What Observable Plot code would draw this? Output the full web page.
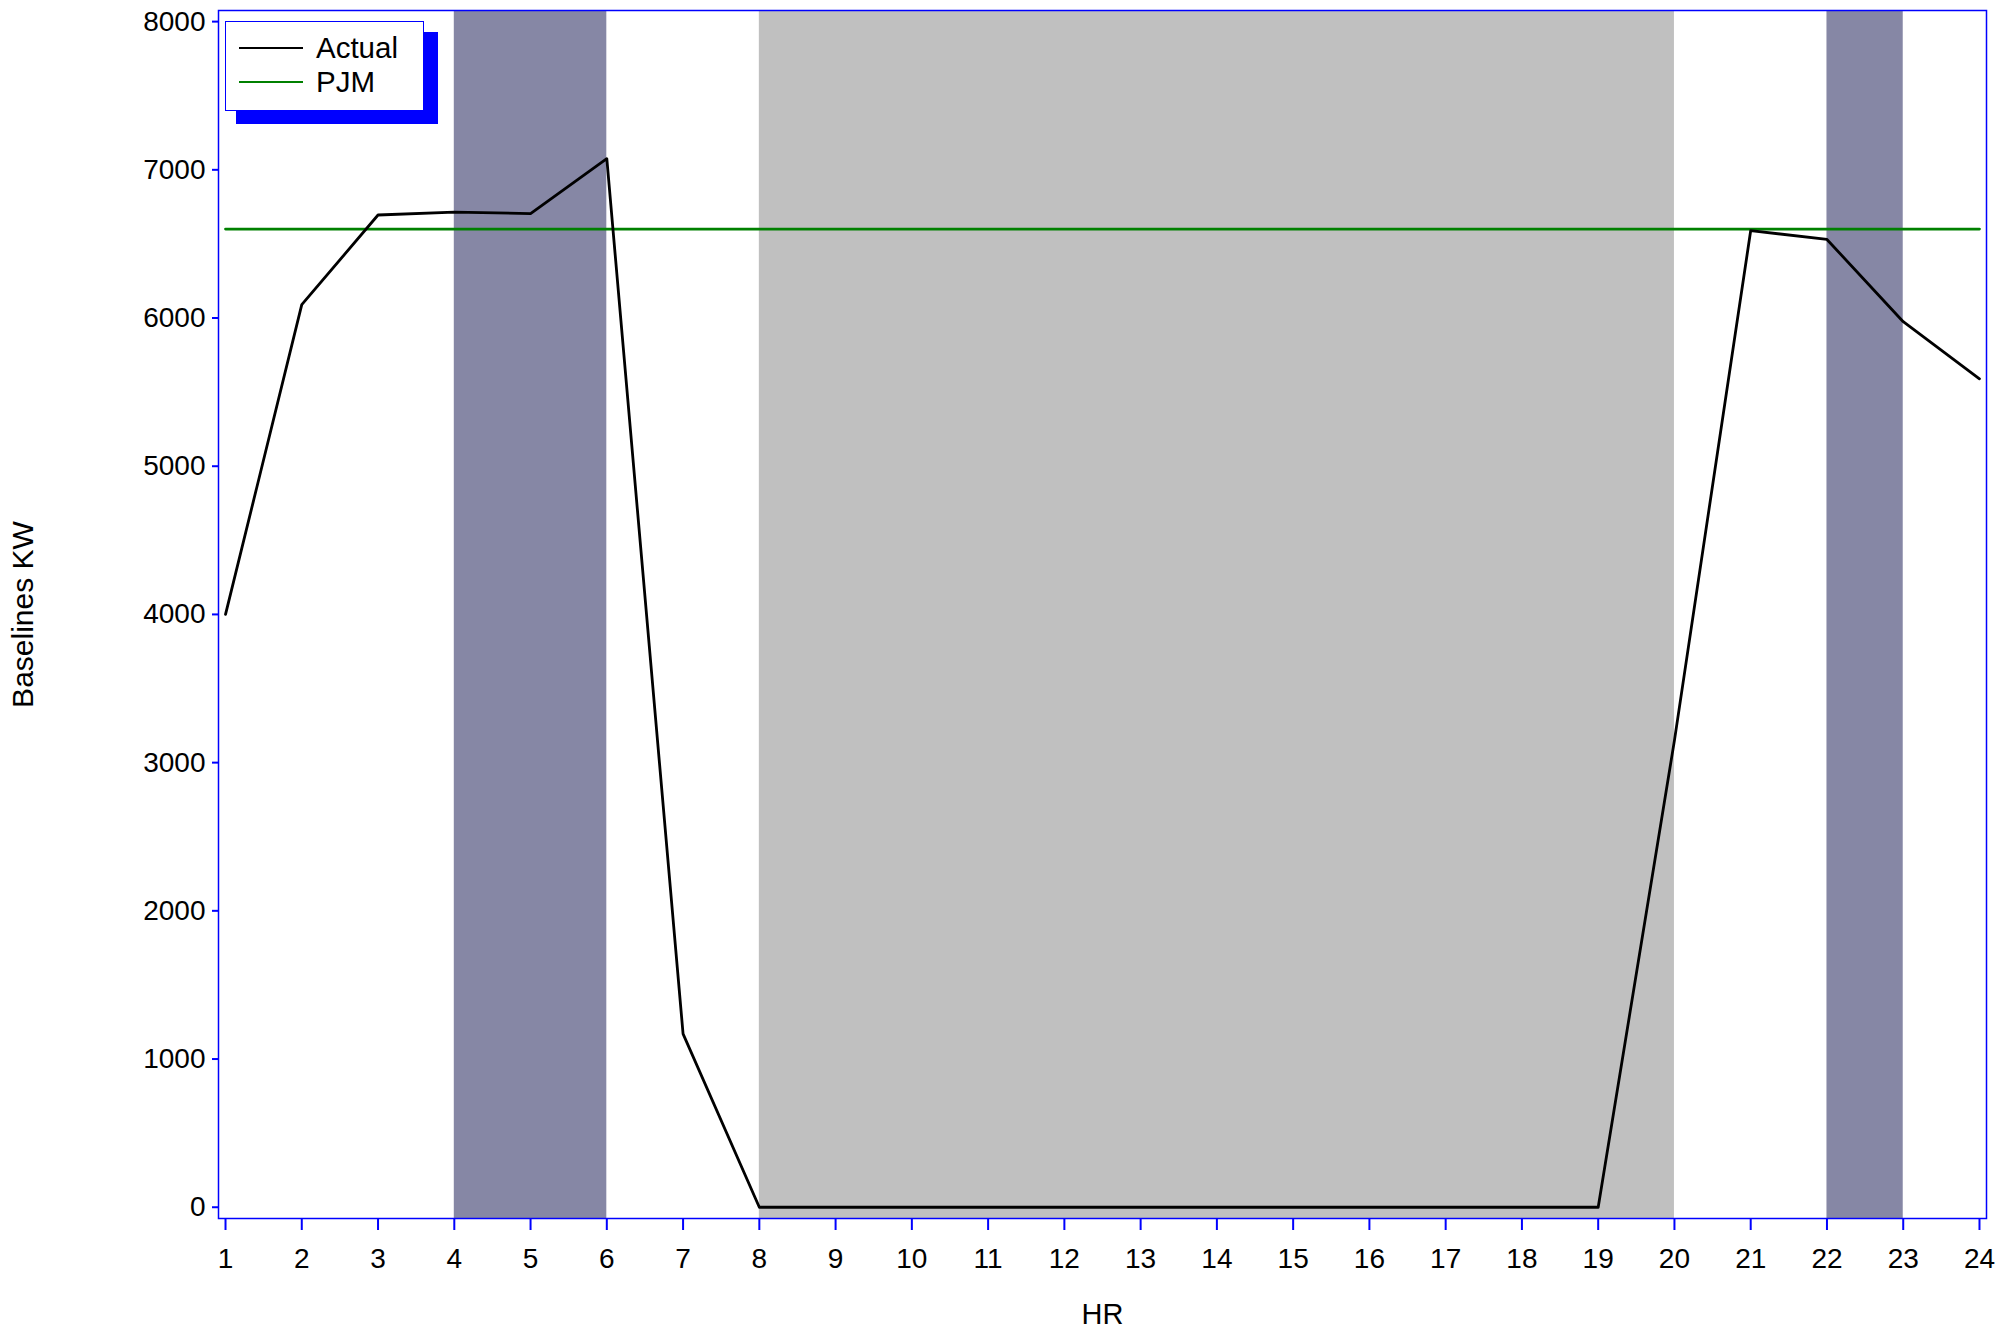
<!DOCTYPE html>
<html>
<head>
<meta charset="utf-8">
<script src="https://cdn.jsdelivr.net/npm/d3@7"></script>
<script src="https://cdn.jsdelivr.net/npm/@observablehq/plot@0.6"></script>
<style>
  html, body { margin: 0; padding: 0; background: #fff; }
  #wrap { position: relative; width: 2016px; height: 1329px; font-family: "Liberation Sans", Arial, sans-serif; }
  #legend-shadow { position: absolute; left: 236px; top: 32px; width: 202px; height: 92px; background: #0000ff; }
  #legend { position: absolute; left: 225px; top: 21px; width: 197px; height: 88px; background: #fff; border: 1px solid #0000ff; box-sizing: content-box; }
  .item { position: absolute; left: 13px; height: 30px; display: flex; align-items: center; font-size: 29.5px; color: #000; }
  .swatch { width: 64px; height: 0; border-top: 2.5px solid; margin-right: 13px; }
</style>
</head>
<body>
<div id="wrap"></div>
<script>
const hours = [1, 2, 3, 4, 5, 6, 7, 8, 9, 10, 11, 12, 13, 14, 15, 16, 17, 18, 19, 20, 21, 22, 23, 24];
const actualKW = [4000, 6090, 6695, 6715, 6705, 7075, 1170, 0, 0, 0, 0, 0, 0, 0, 0, 0, 0, 0, 0, 3150, 6590, 6530, 5975, 5590];
const pjmKW = [6600, 6600, 6600, 6600, 6600, 6600, 6600, 6600, 6600, 6600, 6600, 6600, 6600, 6600, 6600, 6600, 6600, 6600, 6600, 6600, 6600, 6600, 6600, 6600];
const seriesNames = ["Actual", "PJM"];
const seriesColors = ["#000000", "#008000"];
const shadeStart = [4, 8, 22];
const shadeEnd = [6, 20, 23];
const shadeColors = ["#8687a5", "#c0c0c0", "#8687a5"];
const yTicks = [0, 1000, 2000, 3000, 4000, 5000, 6000, 7000, 8000];

const actualData = hours.map((h, i) => ({hour: h, kw: actualKW[i]}));
const pjmData = hours.map((h, i) => ({hour: h, kw: pjmKW[i]}));
const shades = shadeStart.map((s, i) => ({x1: s, x2: shadeEnd[i], fill: shadeColors[i]}));

const chart = Plot.plot({
  width: 2016,
  height: 1329,
  marginLeft: 218,
  marginRight: 30,
  marginTop: 10,
  marginBottom: 111,
  style: {fontFamily: "'Liberation Sans', Arial, sans-serif", fontSize: "28px", background: "#fff", color: "#000"},
  x: {type: "linear", domain: [0.908, 24.092]},
  y: {type: "linear", domain: [-76, 8075]},
  marks: [
    Plot.rect(shades, {x1: "x1", x2: "x2", fill: "fill"}),
    Plot.line(pjmData, {x: "hour", y: "kw", stroke: seriesColors[1], strokeWidth: 2.8}),
    Plot.line(actualData, {x: "hour", y: "kw", stroke: seriesColors[0], strokeWidth: 2.8}),
    Plot.frame({stroke: "#0000ff", strokeWidth: 1.5}),
    Plot.axisX({ticks: hours, tickFormat: d => String(d), tickSize: 12, tickPadding: 18, stroke: "#0000ff", strokeWidth: 2, fill: "#000", fontSize: 28, label: null}),
    Plot.axisX({ticks: [], label: "HR", labelAnchor: "center", labelOffset: 105, labelArrow: "none", fill: "#000", fontSize: 29}),
    Plot.axisY({ticks: yTicks, tickFormat: d => String(d), tickSize: 6, tickPadding: 7, stroke: "#0000ff", strokeWidth: 2, fill: "#000", fontSize: 28, label: null}),
    Plot.axisY({ticks: [], label: "Baselines KW", labelAnchor: "center", labelOffset: 207, labelArrow: "none", fill: "#000", fontSize: 30})
  ]
});

const wrap = document.getElementById("wrap");
wrap.appendChild(chart);

const shadow = document.createElement("div");
shadow.id = "legend-shadow";
wrap.appendChild(shadow);
const legend = document.createElement("div");
legend.id = "legend";
seriesNames.forEach((name, i) => {
  const item = document.createElement("div");
  item.className = "item";
  item.style.top = (11 + i * 34) + "px";
  const sw = document.createElement("span");
  sw.className = "swatch";
  sw.style.borderTopColor = seriesColors[i];
  const tx = document.createElement("span");
  tx.textContent = name;
  item.appendChild(sw);
  item.appendChild(tx);
  legend.appendChild(item);
});
wrap.appendChild(legend);
</script>
</body>
</html>
